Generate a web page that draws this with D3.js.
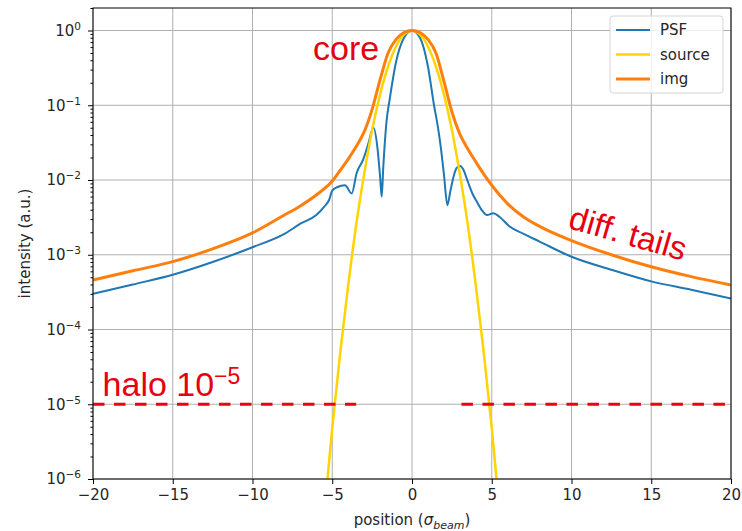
<!DOCTYPE html>
<html>
<head>
<meta charset="utf-8">
<script src="https://cdn.jsdelivr.net/npm/d3@7"></script>
<style>
  body { margin: 0; background: #fff; }
  text { font-family: "DejaVu Sans", sans-serif; fill: #262626; }
  .note { font-family: "Liberation Sans", Arial, sans-serif; fill: #e60012; }
</style>
</head>
<body>
<svg id="chart" width="742" height="531"></svg>
<script>
// values
const psfX = [-20, -17.5, -15, -12.5, -10, -8, -7, -6, -5.5, -5.2, -5, -4.7, -4.2, -3.78, -3.47,
  -3.07, -2.75, -2.42, -2.15, -2.0, -1.9, -1.8, -1.6, -1.4, -1, -0.5, 0, 0.5, 1, 1.38,
  1.6, 1.8, 2.0, 2.22, 2.4, 2.6, 2.8, 3.0, 3.2, 3.5, 3.8, 4.05, 4.4, 4.7, 5.1,
  5.5, 6.1, 7, 8, 10, 12.5, 15, 17.5, 20];
const psfY = [3.0e-4, 4.0e-4, 5.4e-4, 8.0e-4, 1.26e-3, 1.9e-3, 2.6e-3, 3.4e-3, 4.4e-3, 5.4e-3,
  7.2e-3, 8.0e-3, 8.5e-3, 6.6e-3, 0.0124, 0.0186, 0.03, 0.05, 0.025, 0.011,
  0.006, 0.015, 0.06, 0.12, 0.38, 0.8, 1, 0.8, 0.33, 0.1,
  0.055, 0.028, 0.012, 0.0046, 0.007, 0.011, 0.0145, 0.0155, 0.014, 0.0095,
  0.0065, 0.0052, 0.0039, 0.0034, 0.0036, 0.0032, 0.0024, 0.0019, 0.0015, 9.4e-4,
  6.3e-4, 4.4e-4, 3.4e-4, 2.6e-4];

const srcX = [-5.5, -5.3, -5, -4.5, -4, -3.5, -3, -2.5, -2, -1.5, -1, -0.5, 0,
  0.5, 1, 1.5, 2, 2.5, 3, 3.5, 4, 4.5, 5, 5.3, 5.5];
const srcY = [3.7e-7, 1e-6, 4.8e-6, 4.9e-5, 3.9e-4, 2.5e-3, 0.012, 0.047, 0.14, 0.33, 0.61, 0.885, 1,
  0.885, 0.61, 0.33, 0.14, 0.047, 0.012, 2.5e-3, 3.9e-4, 4.9e-5, 4.8e-6, 1e-6, 3.7e-7];

const imgX = [-20, -17.5, -15, -12.5, -10, -8, -7, -6, -5, -4.5, -4, -3.5, -3, -2.5, -2, -1.5, -1, -0.5, 0,
  0.5, 1, 1.5, 2, 2.5, 3, 3.5, 4, 4.5, 5, 6, 7, 8, 10, 12.5, 15, 17.5, 20];
const imgY = [4.6e-4, 6.1e-4, 8.1e-4, 1.2e-3, 1.96e-3, 3.4e-3, 4.5e-3, 6.3e-3, 9.7e-3, 0.0135, 0.019, 0.028, 0.044,
  0.088, 0.22, 0.5, 0.76, 0.94, 1, 0.94, 0.76, 0.5, 0.21, 0.082, 0.041, 0.026, 0.0175, 0.012, 0.0085,
  0.0048, 0.0032, 0.0024, 1.55e-3, 1.0e-3, 6.9e-4, 5.1e-4, 3.95e-4];

const haloLevel = 1e-5;
const haloLeft = [-20, -3.5];
const haloRight = [3.1, 20];

const xTicks = [-20, -15, -10, -5, 0, 5, 10, 15, 20];
const yTicks = [1e-6, 1e-5, 1e-4, 1e-3, 1e-2, 1e-1, 1e0];
const yExps = ["\u22126", "\u22125", "\u22124", "\u22123", "\u22122", "\u22121", "0"];

const seriesNames = ["PSF", "source", "img"];
const seriesColors = ["#1f77b4", "#ffd400", "#ff7f0e"];
const seriesWidths = [2, 2.5, 3];

const svg = d3.select("#chart");
const pl = 93, pr = 731, pt = 8, pb = 479;

const x = d3.scaleLinear().domain([-20, 20]).range([pl, pr]);
const y = d3.scaleLog().domain([1e-6, 2]).range([pb, pt]);

svg.append("defs").append("clipPath").attr("id", "plot")
  .append("rect").attr("x", pl).attr("y", pt)
  .attr("width", pr - pl).attr("height", pb - pt);

// grid
const grid = svg.append("g").attr("stroke", "#b0b0b0").attr("stroke-width", 1);
grid.selectAll(".gx").data(xTicks).join("line").attr("class", "gx")
  .attr("x1", d => x(d)).attr("x2", d => x(d)).attr("y1", pt).attr("y2", pb);
grid.selectAll(".gy").data(yTicks).join("line").attr("class", "gy")
  .attr("x1", pl).attr("x2", pr).attr("y1", d => y(d)).attr("y2", d => y(d));

// curves
const zip = (xs, ys) => xs.map((v, i) => [v, ys[i]]);
const series = [zip(psfX, psfY), zip(srcX, srcY), zip(imgX, imgY)];
const line = d3.line().x(d => x(d[0])).y(d => y(d[1])).curve(d3.curveMonotoneX);

const plot = svg.append("g").attr("clip-path", "url(#plot)");
plot.selectAll(".curve").data(series).join("path")
  .attr("class", "curve")
  .attr("fill", "none")
  .attr("stroke", (d, i) => seriesColors[i])
  .attr("stroke-width", (d, i) => seriesWidths[i])
  .attr("stroke-linejoin", "round")
  .attr("d", line);

// halo dashed level
plot.selectAll(".halo").data([haloLeft, haloRight]).join("line")
  .attr("class", "halo")
  .attr("x1", d => x(d[0])).attr("x2", d => x(d[1]))
  .attr("y1", y(haloLevel)).attr("y2", y(haloLevel))
  .attr("stroke", "#f0000f").attr("stroke-width", 3)
  .attr("stroke-dasharray", "11.5,9.5");

// axes
const xAxis = svg.append("g").attr("transform", `translate(0,${pb})`)
  .call(d3.axisBottom(x).tickValues(xTicks).tickFormat(d3.format("d"))
    .tickSize(5).tickPadding(5).tickSizeOuter(0));
xAxis.select(".domain").remove();
xAxis.selectAll("text").attr("font-size", 15).attr("font-family", "DejaVu Sans").attr("fill", "#262626");

const minor = [];
for (let k = -6; k <= 0; k++) for (let m = 2; m <= 9; m++) if (m * 10 ** k <= 2) minor.push(m * 10 ** k);
const yMinor = svg.append("g").attr("transform", `translate(${pl},0)`)
  .call(d3.axisLeft(y).tickValues(minor).tickFormat("").tickSize(2.5).tickSizeOuter(0));
yMinor.select(".domain").remove();

const yAxis = svg.append("g").attr("transform", `translate(${pl},0)`)
  .call(d3.axisLeft(y).tickValues(yTicks).tickSize(5).tickPadding(7).tickSizeOuter(0));
yAxis.select(".domain").remove();
yAxis.selectAll(".tick text").text(null)
  .attr("font-size", 15).attr("font-family", "DejaVu Sans").attr("fill", "#262626")
  .each(function (d, i) {
    const t = d3.select(this);
    t.append("tspan").text("10");
    t.append("tspan").attr("dy", -6).attr("font-size", 10.5).text(yExps[i]);
  });

svg.append("rect").attr("x", pl).attr("y", pt)
  .attr("width", pr - pl).attr("height", pb - pt)
  .attr("fill", "none").attr("stroke", "#000").attr("stroke-width", 1);

// axis labels
const xl = svg.append("text").attr("x", (pl + pr) / 2).attr("y", 525)
  .attr("text-anchor", "middle").attr("font-size", 15);
xl.append("tspan").text("position (");
xl.append("tspan").attr("font-style", "italic").text("\u03c3");
xl.append("tspan").attr("font-style", "italic").attr("font-size", 11).attr("dy", 4).text("beam");
xl.append("tspan").attr("dy", -4).text(")");

svg.append("text").attr("transform", `translate(30,${(pt + pb) / 2}) rotate(-90)`)
  .attr("text-anchor", "middle").attr("font-size", 15).text("intensity (a.u.)");

// legend
const lg = svg.append("g").attr("transform", "translate(610,16)");
lg.append("rect").attr("width", 113).attr("height", 77).attr("rx", 3)
  .attr("fill", "#fff").attr("fill-opacity", 0.8).attr("stroke", "#d5d5d5");
const item = lg.selectAll(".item").data(seriesNames).join("g")
  .attr("class", "item")
  .attr("transform", (d, i) => `translate(0,${14 + i * 24.5})`);
item.append("line").attr("x1", 6).attr("x2", 40)
  .attr("stroke", (d, i) => seriesColors[i]).attr("stroke-width", (d, i) => seriesWidths[i]);
item.append("text").attr("x", 50).attr("dy", "0.35em").attr("font-size", 15).text(d => d);

// annotations
svg.append("text").attr("class", "note").attr("x", x(-6.2)).attr("y", y(0.405))
  .attr("font-size", 34).text("core");

const halo = svg.append("text").attr("class", "note").attr("x", x(-19.4)).attr("y", y(1.29e-5))
  .attr("font-size", 34);
halo.append("tspan").text("halo 10");
halo.append("tspan").attr("dy", -12).attr("font-size", 23).text("\u22125");

svg.append("text").attr("class", "note")
  .attr("transform", `translate(${x(9.72)},${y(2.3e-3)}) rotate(16)`)
  .attr("font-size", 33).text("diff. tails");
</script>
</body>
</html>
